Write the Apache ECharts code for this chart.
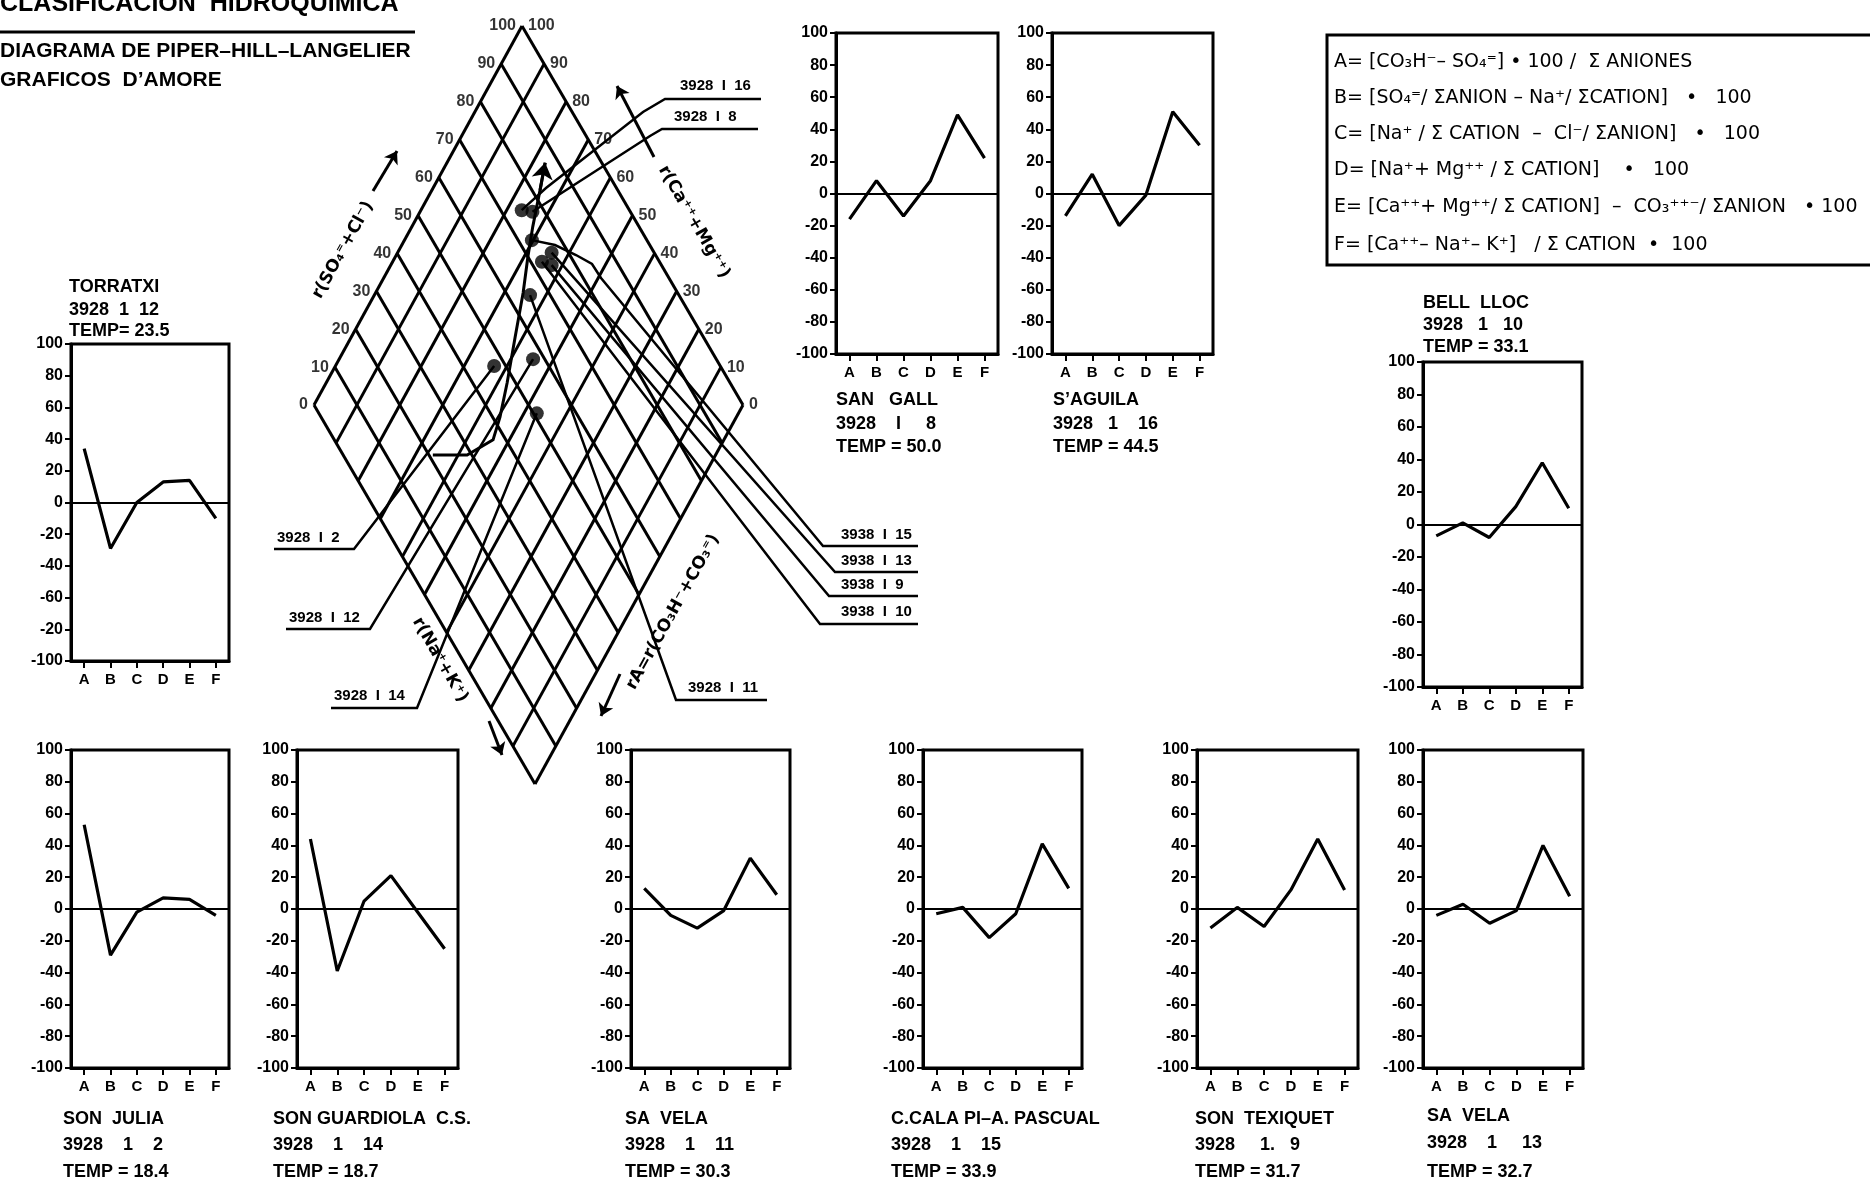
<!DOCTYPE html>
<html>
<head>
<meta charset="utf-8">
<title>Clasificacion hidroquimica</title>
<script src="https://cdn.jsdelivr.net/npm/echarts@6/dist/echarts.min.js"></script>
<style>
  html, body { margin: 0; padding: 0; background: #fff; }
  #chart { width: 1870px; height: 1185px; }
</style>
</head>
<body>
<div id="chart"></div>
<script>
// ---- data ----
const categories = ['A', 'B', 'C', 'D', 'E', 'F'];

// D'Amore indices A..F (percent) per sample
const torratxi     = [34, -29, 0, 13, 14, -10];
const sanGall      = [-16, 8, -14, 8, 49, 22];
const sAguila      = [-14, 12, -20, -1, 51, 30];
const bellLloc     = [-7, 1, -8, 11, 38, 10];
const sonJulia     = [53, -29, -2, 7, 6, -4];
const sonGuardiola = [44, -39, 5, 21, -2, -25];
const saVela11     = [13, -4, -12, -1, 32, 9];
const calaPi       = [-3, 1, -18, -3, 41, 13];
const sonTexiquet  = [-12, 1, -11, 12, 44, 12];
const saVela13     = [-4, 3, -9, -1, 40, 8];

// Piper diamond: r(SO4+Cl) and r(Ca+Mg), percent
const piperIds    = ['16', '8', '15', '13', '10', '9', '11', '2', '12', '14'];
const piperSO4Cl  = [74.9, 77.2, 73.2, 76.1, 72.6, 74.4, 65.3, 47.3, 57.3, 50.8];
const piperCaMg   = [76.5, 73.8, 70.3, 64.1, 65.2, 62.5, 63.7, 63.0, 54.8, 47.0];
const diamondTicks = [0, 10, 20, 30, 40, 50, 60, 70, 80, 90, 100];

// hand drawn evolution curve in the diamond
const trendSO4Cl = [20.9, 28.9, 37.0, 41.7, 48.0, 56.1, 64.0, 70.0, 75.2, 81.9, 86.8];
const trendCaMg  = [65.9, 57.9, 53.8, 55.1, 57.8, 61.8, 65.6, 69.1, 71.8, 74.8, 77.1];

const stations = [
  { key: 'torratxi', name: 'TORRATXI', code: '3928  1  12', temp: 'TEMP= 23.5', values: torratxi, tickText: { '-80': '-20' } },
  { key: 'sanGall', name: 'SAN   GALL', code: '3928    I     8', temp: 'TEMP = 50.0', values: sanGall },
  { key: 'sAguila', name: 'S\u2019AGUILA', code: '3928   1    16', temp: 'TEMP = 44.5', values: sAguila },
  { key: 'bellLloc', name: 'BELL  LLOC', code: '3928   1   10', temp: 'TEMP = 33.1', values: bellLloc },
  { key: 'sonJulia', name: 'SON  JULIA', code: '3928    1    2', temp: 'TEMP = 18.4', values: sonJulia },
  { key: 'sonGuardiola', name: 'SON GUARDIOLA  C.S.', code: '3928    1    14', temp: 'TEMP = 18.7', values: sonGuardiola },
  { key: 'saVela11', name: 'SA  VELA', code: '3928    1    11', temp: 'TEMP = 30.3', values: saVela11 },
  { key: 'calaPi', name: 'C.CALA PI\u2013A. PASCUAL', code: '3928    1    15', temp: 'TEMP = 33.9', values: calaPi },
  { key: 'sonTexiquet', name: 'SON  TEXIQUET', code: '3928     1.   9', temp: 'TEMP = 31.7', values: sonTexiquet },
  { key: 'saVela13', name: 'SA  VELA', code: '3928    1     13', temp: 'TEMP = 32.7', values: saVela13 }
];

const legendLines = [
  'A= [CO\u2083H\u207B\u2013 SO\u2084\u207C] \u2022 100 /  \u03A3 ANIONES',
  'B= [SO\u2084\u207C/ \u03A3ANION \u2013 Na\u207A/ \u03A3CATION]   \u2022   100',
  'C= [Na\u207A / \u03A3 CATION  \u2013  Cl\u207B/ \u03A3ANION]   \u2022   100',
  'D= [Na\u207A+ Mg\u207A\u207A / \u03A3 CATION]    \u2022   100',
  'E= [Ca\u207A\u207A+ Mg\u207A\u207A/ \u03A3 CATION]  \u2013  CO\u2083\u207A\u207A\u207B/ \u03A3ANION   \u2022 100',
  'F= [Ca\u207A\u207A\u2013 Na\u207A\u2013 K\u207A]   / \u03A3 CATION  \u2022  100'
];

// ---- layout (pixels) ----
const FONT = '"Liberation Sans", Arial, sans-serif';
const boxes = {
  torratxi:     { box: [71, 344, 229, 661],    text: [69, [287, 310, 331]] },
  sanGall:      { box: [836, 33, 998, 354],    text: [836, [400, 424, 447]] },
  sAguila:      { box: [1052, 33, 1213, 354],  text: [1053, [400, 424, 447]] },
  bellLloc:     { box: [1423, 362, 1582, 687], text: [1423, [303, 325, 347]] },
  sonJulia:     { box: [71, 750, 229, 1068],   text: [63, [1119, 1145, 1172]] },
  sonGuardiola: { box: [297, 750, 458, 1068],  text: [273, [1119, 1145, 1172]] },
  saVela11:     { box: [631, 750, 790, 1068],  text: [625, [1119, 1145, 1172]] },
  calaPi:       { box: [923, 750, 1082, 1068], text: [891, [1119, 1145, 1172]] },
  sonTexiquet:  { box: [1197, 750, 1358, 1068], text: [1195, [1119, 1145, 1172]] },
  saVela13:     { box: [1423, 750, 1583, 1068], text: [1427, [1116, 1143, 1172]] }
};

// diamond corners: bottom, right, left
const DB = [535, 784], DR = [743, 405], DL = [314, 405];
const toXY = (p, q) => [
  DB[0] + p / 100 * (DR[0] - DB[0]) + q / 100 * (DL[0] - DB[0]),
  DB[1] + p / 100 * (DR[1] - DB[1]) + q / 100 * (DL[1] - DB[1])
];

// sample labels around the diamond: text anchor, bends, underline
const leaderLayout = {
  '16': { text: [680, 86],  path: [[546, 188], [643, 112], [665, 99], [761, 99]] },
  '8':  { text: [674, 117], path: [[650, 136], [662, 129], [758, 129]] },
  '15': { text: [841, 535], path: [[555, 245], [576, 255], [592, 264], [601, 278], [823, 546], [918, 546]] },
  '13': { text: [841, 561], path: [[835, 572], [918, 572]] },
  '9':  { text: [841, 585], path: [[829, 596], [918, 596]] },
  '10': { text: [841, 612], path: [[820, 624], [918, 624]] },
  '11': { text: [688, 688], path: [[676, 700], [767, 700]] },
  '2':  { text: [277, 538], path: [[354, 549], [274, 549]] },
  '12': { text: [289, 618], path: [[370, 629], [286, 629]] },
  '14': { text: [334, 696], path: [[417, 708], [331, 708]] }
};

const axisArrows = [
  [[373, 191], [397, 151]],
  [[654, 157], [617, 86]],
  [[489, 721], [502, 755]],
  [[620, 674], [601, 716]]
];

const deg = (d) => d * Math.PI / 180;
const axisTitles = [
  { text: 'r(SO\u2084\u207C+Cl\u207B)', at: [343, 250], rot: 61 },
  { text: 'r(Ca\u207A\u207A+Mg\u207A\u207A)', at: [694, 222], rot: -60 },
  { text: 'r(Na\u207A+K\u207A)', at: [440, 660], rot: -60 },
  { text: 'rA=r(CO\u2083H\u207B+CO\u2083\u207C)', at: [673, 612], rot: 61 }
];

// ---- build option ----
const grids = [], xAxes = [], yAxes = [], series = [], graphics = [];

stations.forEach((st, i) => {
  const lay = boxes[st.key];
  const [x1, y1, x2, y2] = lay.box;
  grids.push({
    left: x1, top: y1, width: x2 - x1, height: y2 - y1,
    show: true, borderColor: '#000', borderWidth: 3, backgroundColor: 'transparent'
  });
  xAxes.push({
    gridIndex: i, type: 'category', data: categories, boundaryGap: true, position: 'bottom',
    axisLine: { show: true, onZero: false, lineStyle: { color: '#000', width: 3 } },
    axisTick: { show: true, alignWithLabel: true, length: 7, lineStyle: { color: '#000', width: 2 } },
    axisLabel: { color: '#000', fontWeight: 'bold', fontSize: 15, fontFamily: FONT, margin: 11 },
    splitLine: { show: false }
  });
  yAxes.push({
    gridIndex: i, type: 'value', min: -100, max: 100, interval: 20,
    axisLine: { show: true, lineStyle: { color: '#000', width: 3 } },
    axisTick: { show: true, length: 6, lineStyle: { color: '#000', width: 2 } },
    axisLabel: {
      color: '#000', fontWeight: 'bold', fontSize: 16, fontFamily: FONT, margin: 8,
      formatter: (v) => (st.tickText && st.tickText[String(v)]) || String(v)
    },
    splitLine: { show: false }
  });
  series.push({
    type: 'line', xAxisIndex: i, yAxisIndex: i, data: st.values,
    symbol: 'none', lineStyle: { color: '#000', width: 3.2 }, z: 3,
    markLine: {
      silent: true, symbol: 'none', label: { show: false },
      lineStyle: { color: '#000', width: 2, type: 'solid' },
      data: [{ yAxis: 0 }]
    }
  });
  const [tx, tys] = lay.text;
  [st.name, st.code, st.temp].forEach((t, k) => {
    graphics.push({
      type: 'text', x: tx, y: tys[k],
      style: { text: t, fill: '#000', font: 'bold 18px ' + FONT, textAlign: 'left', textVerticalAlign: 'middle' }
    });
  });
});

// full-page overlay grid, 1 unit = 1 px, for the Piper diamond
const ov = stations.length;
grids.push({ left: 0, top: 0, width: 1870, height: 1185, show: false });
xAxes.push({ gridIndex: ov, type: 'value', min: 0, max: 1870, show: false });
yAxes.push({ gridIndex: ov, type: 'value', min: 0, max: 1185, inverse: true, show: false });

const gridLines = [];
diamondTicks.forEach((t) => {
  gridLines.push({ coords: [toXY(t, 0), toXY(t, 100)] });
  gridLines.push({ coords: [toXY(0, t), toXY(100, t)] });
});
series.push({
  type: 'lines', coordinateSystem: 'cartesian2d', xAxisIndex: ov, yAxisIndex: ov,
  data: gridLines, symbol: 'none', silent: true,
  lineStyle: { color: '#000', width: 3, opacity: 1 }, z: 2
});

// edge numbers
const edgeLabel = { show: true, distance: 6, formatter: '{b}', color: '#000', fontWeight: 'bold', fontSize: 16, fontFamily: FONT };
series.push({
  type: 'scatter', xAxisIndex: ov, yAxisIndex: ov, symbolSize: 0, silent: true,
  data: diamondTicks.map((t) => ({ value: toXY(t, 100), name: String(t) })),
  label: Object.assign({ position: 'left' }, edgeLabel)
});
series.push({
  type: 'scatter', xAxisIndex: ov, yAxisIndex: ov, symbolSize: 0, silent: true,
  data: diamondTicks.map((t) => ({ value: toXY(100, t), name: String(t) })),
  label: Object.assign({ position: 'right' }, edgeLabel)
});

// evolution curve with arrowhead
const trendPts = trendSO4Cl.map((p, i) => toXY(p, trendCaMg[i]));
series.push({
  type: 'lines', coordinateSystem: 'cartesian2d', xAxisIndex: ov, yAxisIndex: ov,
  polyline: true, silent: true, data: [{ coords: trendPts }],
  lineStyle: { color: '#000', width: 3, opacity: 1 }, z: 4
});
series.push({
  type: 'lines', coordinateSystem: 'cartesian2d', xAxisIndex: ov, yAxisIndex: ov,
  silent: true, symbol: ['none', 'arrow'], symbolSize: 16,
  data: [{ coords: trendPts.slice(-2) }],
  lineStyle: { color: '#000', width: 3, opacity: 1 }, z: 4
});

// leader lines from dots to sample labels
const leaders = piperIds.map((id, i) => ({
  coords: [toXY(piperSO4Cl[i], piperCaMg[i])].concat(leaderLayout[id].path)
}));
series.push({
  type: 'lines', coordinateSystem: 'cartesian2d', xAxisIndex: ov, yAxisIndex: ov,
  polyline: true, silent: true, data: leaders,
  lineStyle: { color: '#000', width: 2.5, opacity: 1 }, z: 4
});

// axis direction arrows
series.push({
  type: 'lines', coordinateSystem: 'cartesian2d', xAxisIndex: ov, yAxisIndex: ov,
  silent: true, symbol: ['none', 'arrow'], symbolSize: 12,
  data: axisArrows.map((c) => ({ coords: c })),
  lineStyle: { color: '#000', width: 3, opacity: 1 }, z: 4
});

// sample dots
series.push({
  type: 'scatter', xAxisIndex: ov, yAxisIndex: ov, silent: true,
  symbol: 'circle', symbolSize: 14, itemStyle: { color: '#000' }, z: 5,
  data: piperSO4Cl.map((p, i) => toXY(p, piperCaMg[i]))
});

piperIds.forEach((id) => {
  const lay = leaderLayout[id];
  const prefix = ['15', '13', '9', '10'].indexOf(id) >= 0 ? '3938' : '3928';
  graphics.push({
    type: 'text', x: lay.text[0], y: lay.text[1],
    style: { text: prefix + '  I  ' + id, fill: '#000', font: 'bold 15px ' + FONT, textAlign: 'left', textVerticalAlign: 'middle' }
  });
});

axisTitles.forEach((a) => {
  graphics.push({
    type: 'text', x: a.at[0], y: a.at[1], rotation: deg(a.rot),
    style: { text: a.text, fill: '#000', font: 'bold 17px "DejaVu Sans", sans-serif', textAlign: 'center', textVerticalAlign: 'middle' }
  });
});

// titles
graphics.push(
  { type: 'text', x: 0, y: 4, style: { text: 'CLASIFICACION  HIDROQUIMICA', fill: '#000', font: 'bold 25px ' + FONT, textAlign: 'left', textVerticalAlign: 'middle' } },
  { type: 'line', shape: { x1: 0, y1: 32, x2: 415, y2: 32 }, style: { stroke: '#000', lineWidth: 3 } },
  { type: 'text', x: 0, y: 51, style: { text: 'DIAGRAMA DE PIPER\u2013HILL\u2013LANGELIER', fill: '#000', font: 'bold 21px ' + FONT, textAlign: 'left', textVerticalAlign: 'middle' } },
  { type: 'text', x: 0, y: 80, style: { text: 'GRAFICOS  D\u2019AMORE', fill: '#000', font: 'bold 21px ' + FONT, textAlign: 'left', textVerticalAlign: 'middle' } }
);

// formula box
graphics.push({
  type: 'rect', shape: { x: 1327, y: 35, width: 560, height: 230 },
  style: { fill: 'none', stroke: '#000', lineWidth: 3 }
});
const legendY = [62, 98, 134, 170, 207, 245];
legendLines.forEach((t, k) => {
  graphics.push({
    type: 'text', x: 1334, y: legendY[k],
    style: { text: t, fill: '#000', font: '19px "DejaVu Sans", sans-serif', textAlign: 'left', textVerticalAlign: 'middle' }
  });
});

const chart = echarts.init(document.getElementById('chart'), null, { renderer: 'canvas' });
chart.setOption({
  backgroundColor: '#fff',
  animation: false,
  grid: grids,
  xAxis: xAxes,
  yAxis: yAxes,
  series: series,
  graphic: { elements: graphics }
});
</script>
</body>
</html>
